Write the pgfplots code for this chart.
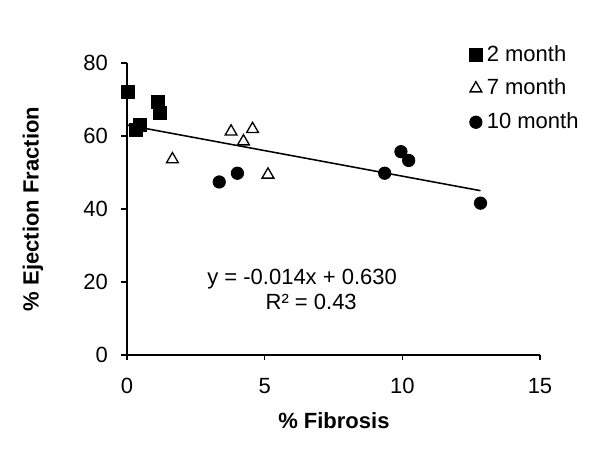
\documentclass[border=0pt]{standalone}
\usepackage{pgfplots}
\pgfplotsset{compat=1.18}
\usepackage{fontspec}
\setmainfont{Liberation Sans}
\begin{document}
\begin{tikzpicture}
\begin{axis}[
  scale only axis,
  width=187.7pt, height=132.7pt,
  xmin=0, xmax=15, ymin=0, ymax=80,
  xtick={0,5,10,15}, ytick={0,20,40,60,80},
  axis lines*=left,
  axis line style={line width=0.7pt},
  tick style={line width=0.7pt, black},
  tick align=outside,
  major tick length=2.5pt,
  /pgf/number format/assume math mode=true,
  tick label style={font=\normalsize},
  xticklabel style={yshift=-4.5pt},
  yticklabel style={xshift=-2.7pt},
  xlabel={\textbf{\% Fibrosis}},
  ylabel={\textbf{\% Ejection Fraction}},
  xlabel style={at={(rel axis cs:0.501,-0.226)}, anchor=center},
  ylabel style={at={(rel axis cs:-0.2276,0.5)}, anchor=center},
  clip=false,
  legend image code/.code={\draw[#1] plot coordinates {(0.1cm,0cm)};},
  legend style={draw=none, fill=none, at={(rel axis cs:0.828,1.078)}, anchor=north west,
    inner sep=0pt, row sep=2.6pt, cells={anchor=west}, font=\normalsize},
]
\addplot[only marks, mark=square*, mark size=2.95pt, black] coordinates {
(0.03,72.1) (0.33,61.6) (0.47,63.0) (1.14,69.2) (1.20,66.4)};
\addlegendentry{2 month}
\addplot[only marks, mark=triangle, mark size=3.1pt, black, mark options={fill=white, line width=0.6pt}] coordinates {
(1.65,53.6) (3.78,61.2) (4.56,61.9) (4.23,58.5) (5.12,49.4)};
\addlegendentry{7 month}
\addplot[only marks, mark=*, mark size=2.8pt, black] coordinates {
(3.35,47.4) (4.01,49.8) (9.36,49.8) (9.95,55.7) (10.23,53.3) (12.84,41.6)};
\addlegendentry{10 month}
\addplot[black, line width=0.7pt, no marks, forget plot] coordinates {(0.03,62.96) (12.84,45.02)};
\node at (axis cs:6.36,20.8) {y = -0.014x + 0.630};
\node at (axis cs:6.69,14.5) {R² = 0.43};
\path (rel axis cs:-0.3075,-0.3322) rectangle (rel axis cs:1.1453,1.2158);
\end{axis}
\end{tikzpicture}
\end{document}
